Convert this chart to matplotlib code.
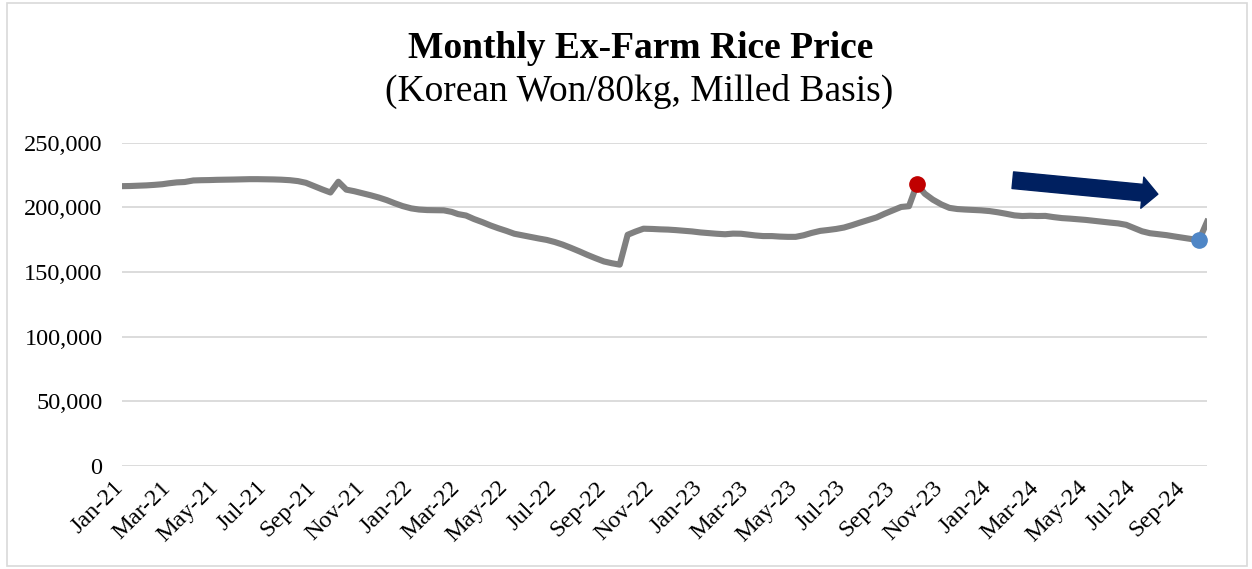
import matplotlib

matplotlib.use("Agg")
import matplotlib.pyplot as plt  # noqa: E402
import matplotlib.transforms as mtransforms
from matplotlib.patches import Rectangle
import pandas as pd

plt.rcParams["font.family"] = ["Liberation Serif", "DejaVu Serif"]

# dekadal observations (5th, 15th, 25th of each month), Jan-21 .. Oct-24
months = pd.date_range("2021-01-01", "2024-09-01", freq="MS")
dates = [m + pd.Timedelta(days=d) for m in months for d in (4, 14, 24)]
dates.append(pd.Timestamp("2024-10-05"))

prices = [
    216400, 216500, 216700,  # Jan-21
    217000, 217400, 217900,
    218600, 219300, 219600,
    220800, 221000, 221100,
    221300, 221400, 221500,
    221700, 221800, 221800,
    221700, 221600, 221400,
    221000, 220300, 219000,
    216300, 213800, 211500,
    219800, 213700, 212500,  # Oct-21
    210800, 209300, 207600,
    205600, 203200, 201000,
    199200, 198300, 197900,  # Jan-22
    197800, 197700, 196500,
    194800, 193700, 191000,
    188500, 186000, 183800,
    181800, 179600, 178400,
    177000, 175900, 174800,
    173200, 171200, 168800,
    166000, 163300, 160800,
    158200, 156800, 155700,
    178800, 181300, 183500,  # Oct-22
    183300, 183000, 182800,
    182400, 181900, 181400,
    180600, 180100, 179600,  # Jan-23
    179200, 179700, 179600,
    179000, 178300, 177800,
    177800, 177400, 177200,
    177200, 178400, 180200,
    181800, 182500, 183300,
    184400, 186200, 188200,
    190300, 192200, 195000,
    197800, 200300, 200900,
    217800, 210500, 206000,  # Oct-23
    202200, 199600, 198700,
    198300, 198000, 197700,
    197100, 196200, 195100,  # Jan-24
    193800, 193300, 193500,
    193300, 193400, 192500,
    191700, 191300, 190800,
    190300, 189600, 188900,
    188200, 187600, 186500,
    184000, 181500, 180000,
    179200, 178500, 177500,
    176500, 175600, 174600,  # Sep-24
    188800,                  # Oct-24
]

peak_date = pd.Timestamp("2023-10-05")
low_date = pd.Timestamp("2024-09-25")
arrow_start = (pd.Timestamp("2024-02-03"), 221000)
arrow_end = (pd.Timestamp("2024-08-04"), 210200)

tick_dates = [pd.Timestamp("2021-01-05") + pd.DateOffset(months=2 * i) for i in range(23)]
tick_labels = [d.strftime("%b-%y") for d in tick_dates]
y_ticks = [0, 50000, 100000, 150000, 200000, 250000]

fig = plt.figure(figsize=(12.52, 5.69), dpi=100)
ax = fig.add_axes([122 / 1252, 103 / 569, 1085 / 1252, 323.3 / 569])

ax.plot(dates, prices, color="#808080", linewidth=4.4, solid_joinstyle="round", zorder=3)

series = pd.Series(prices, index=dates)
ax.plot([peak_date], [series[peak_date]], "o", color="#C00000", markersize=11, zorder=4)
ax.plot([low_date], [series[low_date]], "o", color="#4F86C6", markersize=11, zorder=4)

ax.annotate(
    "",
    xy=arrow_end,
    xytext=arrow_start,
    arrowprops=dict(
        arrowstyle="simple,head_length=0.75,head_width=1.5,tail_width=0.8",
        mutation_scale=15,
        color="#002060",
        shrinkA=0,
        shrinkB=0,
    ),
    zorder=5,
)

ax.set_xlim(dates[0], dates[-1])
ax.set_ylim(0, 250000)
ax.set_yticks(y_ticks)
ax.set_yticklabels([f"{v:,}" for v in y_ticks])
ax.set_xticks(tick_dates)
ax.set_xticklabels(tick_labels, rotation=45, ha="right", rotation_mode="anchor")
ax.tick_params(axis="both", length=0, labelsize=17.5, colors="black")
ax.tick_params(axis="y", pad=14)
ax.tick_params(axis="x", pad=8)

# nudge rotated date labels left so their ends sit just before the tick
shift = mtransforms.ScaledTranslation(-9 / 100, 0, fig.dpi_scale_trans)
for lbl in ax.get_xticklabels():
    lbl.set_transform(lbl.get_transform() + shift)

ax.grid(axis="y", color="#D9D9D9", linewidth=1.3)
ax.set_axisbelow(True)
for side in ("top", "right", "left", "bottom"):
    ax.spines[side].set_visible(False)

fig.text(641 / 1252, 1 - 48 / 569, "Monthly Ex-Farm Rice Price", ha="center", va="center",
         fontsize=27, fontweight="bold")
fig.text(639 / 1252, 1 - 91 / 569, "(Korean Won/80kg, Milled Basis)", ha="center", va="center",
         fontsize=27)

fig.patches.append(Rectangle((6.5 / 1252, 3 / 569), 1240 / 1252, 563 / 569,
                             transform=fig.transFigure, fill=False,
                             edgecolor="#D9D9D9", linewidth=1.2))

fig.savefig("out.png", dpi=100, facecolor="white")
plt.close(fig)
